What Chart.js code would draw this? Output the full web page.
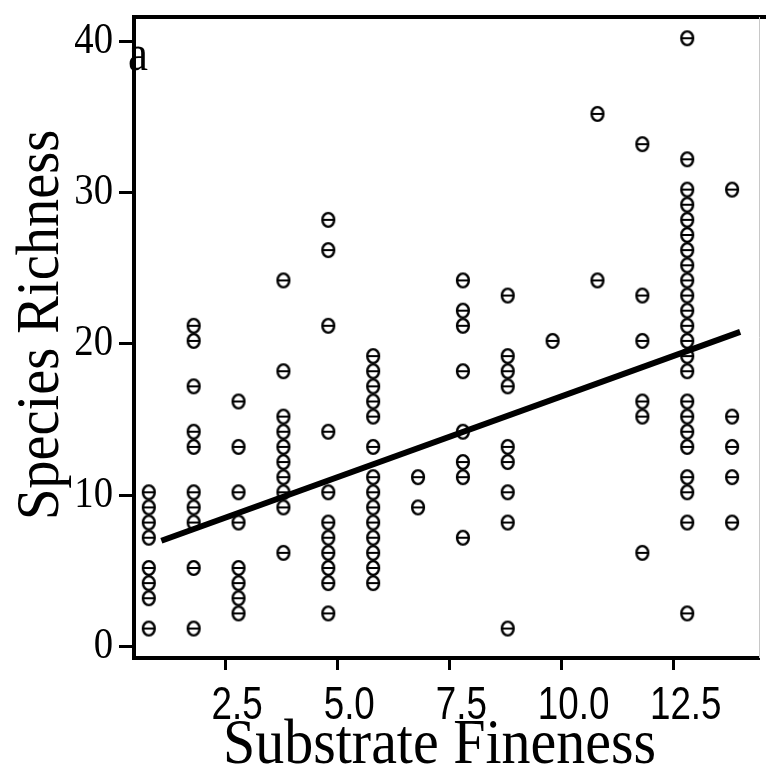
<!DOCTYPE html>
<html>
<head>
<meta charset="utf-8">
<script src="https://cdn.jsdelivr.net/npm/chart.js@4/dist/chart.umd.min.js"></script>
<style>
  html, body { margin: 0; padding: 0; background: #fff; }
  #c { display: block; }
</style>
</head>
<body>
<canvas id="c" width="766" height="769"></canvas>
<script>
// ---- data ----
const fineness = [0.8, 1.8, 2.8, 3.8, 4.8, 5.8, 6.8, 7.8, 8.8, 9.8, 10.8, 11.8, 12.8, 13.8];
const col1  = [10, 9, 8, 7, 5, 4, 3, 1];
const col2  = [21, 20, 17, 14, 13, 10, 9, 8, 5, 1];
const col3  = [16, 13, 10, 8, 5, 4, 3, 2];
const col4  = [24, 18, 15, 14, 13, 12, 11, 10, 9, 6];
const col5  = [28, 26, 21, 14, 10, 8, 7, 6, 5, 4, 2];
const col6  = [19, 18, 17, 16, 15, 13, 11, 10, 9, 8, 7, 6, 5, 4];
const col7  = [11, 9];
const col8  = [24, 22, 21, 18, 14, 12, 11, 7];
const col9  = [23, 19, 18, 17, 13, 12, 10, 8, 1];
const col10 = [20];
const col11 = [35, 24];
const col12 = [33, 23, 20, 16, 15, 6];
const col13 = [40, 32, 30, 29, 28, 27, 26, 25, 24, 23, 22, 21, 20, 19, 18, 16, 15, 14, 13, 11, 10, 8, 2];
const col14 = [30, 15, 13, 11, 8];
const fitX = [1.08, 13.98];
const fitY = [7.0, 20.8];
const xTicks = [2.5, 5.0, 7.5, 10.0, 12.5];
const yTicks = [0, 10, 20, 30, 40];
const xTitle = "Substrate Fineness";
const yTitle = "Species Richness";
const panelLabel = "a";

const columns = [col1, col2, col3, col4, col5, col6, col7, col8, col9, col10, col11, col12, col13, col14];
const points = [];
fineness.forEach((x, i) => columns[i].forEach(y => points.push({ x: x, y: y })));
const fitLine = fitX.map((x, i) => ({ x: x, y: fitY[i] }));

// theta-like marker (glyph sits slightly above its data point, as in the original)
function thetaGlyph() {
  const c = document.createElement('canvas');
  c.width = 18; c.height = 24;
  const g = c.getContext('2d');
  g.strokeStyle = '#000';
  g.lineWidth = 2.4;
  g.beginPath();
  g.ellipse(9, 9, 5.9, 6.9, 0, 0, Math.PI * 2);
  g.stroke();
  g.beginPath();
  g.moveTo(3, 9); g.lineTo(15, 9);
  g.lineWidth = 2;
  g.stroke();
  return c;
}
const glyph = thetaGlyph();

function drawText(ctx, str, x, y, font, sx, align, rot) {
  ctx.save();
  ctx.translate(x, y);
  if (rot) ctx.rotate(rot);
  ctx.scale(sx, 1);
  ctx.font = font;
  ctx.fillStyle = '#000';
  ctx.textAlign = align;
  ctx.textBaseline = 'middle';
  ctx.fillText(str, 0, 0);
  ctx.restore();
}

const textPlugin = {
  id: 'textPlugin',
  afterDraw(chart) {
    const ctx = chart.ctx;
    const a = chart.chartArea;
    const xs = chart.scales.x, ys = chart.scales.y;
    // top frame line and faint right edge
    ctx.save();
    ctx.strokeStyle = '#000';
    ctx.lineWidth = 4;
    ctx.beginPath();
    ctx.moveTo(a.left - 2, a.top);
    ctx.lineTo(chart.width, a.top);
    ctx.stroke();
    ctx.strokeStyle = '#c8c8c8';
    ctx.lineWidth = 1;
    ctx.beginPath();
    ctx.moveTo(a.right + 0.5, a.top);
    ctx.lineTo(a.right + 0.5, a.bottom);
    ctx.stroke();
    ctx.restore();
    // y tick labels
    ys.ticks.forEach(t => {
      drawText(ctx, String(t.value), 113, ys.getPixelForValue(t.value), '44px "Liberation Serif"', 0.88, 'right', 0);
    });
    // x tick labels
    xs.ticks.forEach(t => {
      drawText(ctx, t.value.toFixed(1), xs.getPixelForValue(t.value) + 12, 706, '46px "Liberation Sans"', 0.8, 'center', 0);
    });
    // axis titles
    drawText(ctx, xTitle, (a.left + a.right) / 2 - 7, 746, '63px "Liberation Serif"', 0.92, 'center', 0);
    drawText(ctx, yTitle, 42, 325, '62px "Liberation Serif"', 0.91, 'center', -Math.PI / 2);
    // panel label
    drawText(ctx, panelLabel, 128, 57, '50px "Liberation Serif"', 0.9, 'left', 0);
  }
};

new Chart(document.getElementById('c'), {
  type: 'scatter',
  data: {
    datasets: [
      {
        label: 'Species Richness',
        data: points,
        pointStyle: glyph,
        pointRadius: 6,
        pointHoverRadius: 6,
        borderColor: '#000',
        backgroundColor: '#000'
      },
      {
        type: 'line',
        label: 'fit',
        data: fitLine,
        borderColor: '#000',
        borderWidth: 6,
        pointRadius: 0,
        showLine: true,
        fill: false
      }
    ]
  },
  options: {
    responsive: false,
    animation: false,
    devicePixelRatio: 1,
    layout: { padding: { left: 0, top: 17, right: 1, bottom: 0 } },
    plugins: { legend: { display: false }, tooltip: { enabled: false } },
    scales: {
      x: {
        type: 'linear',
        min: 0.47,
        max: 14.4,
        afterBuildTicks: s => { s.ticks = xTicks.map(v => ({ value: v })); },
        afterFit: s => { s.height = 111; },
        ticks: { display: false },
        grid: { drawOnChartArea: false, drawTicks: true, tickLength: 12, tickWidth: 3, tickColor: '#000' },
        border: { display: true, color: '#000', width: 4 }
      },
      y: {
        type: 'linear',
        min: -0.75,
        max: 41.6,
        afterBuildTicks: s => { s.ticks = yTicks.map(v => ({ value: v })); },
        afterFit: s => { s.width = 134; },
        ticks: { display: false },
        grid: { drawOnChartArea: false, drawTicks: true, tickLength: 15, tickWidth: 3, tickColor: '#000' },
        border: { display: true, color: '#000', width: 4 }
      }
    }
  },
  plugins: [textPlugin]
});
</script>
</body>
</html>
